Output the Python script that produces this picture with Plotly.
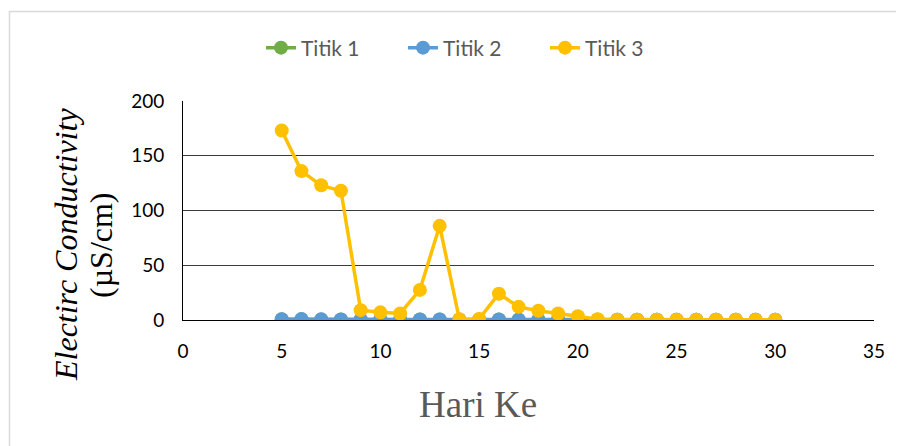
import plotly.graph_objects as go

days = list(range(5, 31))
titik1 = [0.6, 0.7, 0.5, 0.4, 0.4, 0.4, 0.3, 0.4, 0.4, 0.3, 0.3, 0.4, 0.3, 0.3, 0.3, 0.3, 0.2, 0.2, 0.2, 0.2, 0.2, 0.2, 0.2, 0.2, 0.2, 0.2]
titik2 = [0.7, 0.8, 0.6, 0.5, 0.5, 0.5, 0.4, 0.5, 0.5, 0.4, 0.4, 0.5, 0.4, 0.4, 0.4, 0.4, 0.3, 0.3, 0.3, 0.3, 0.3, 0.3, 0.3, 0.3, 0.3, 0.3]
titik3 = [173, 136, 123, 118, 9, 7, 6, 27.5, 86, 0.6, 1, 24, 12, 8.5, 6, 3.5, 0.7, 0.3, 0.2, 0.2, 0.2, 0.2, 0.2, 0.2, 0.2, 0.2]

x_ticks = [0, 5, 10, 15, 20, 25, 30, 35]
y_ticks = [0, 50, 100, 150, 200]

series = [("Titik 1", titik1, "#70AD47"), ("Titik 2", titik2, "#5B9BD5"), ("Titik 3", titik3, "#FFC000")]

# page has an 8px body margin: figure origin at (8, 8)
OX, OY = 8, 8
PL, PR, PT, PB = 183 - OX, 874 - OX, 101 - OY, 320 - OY
W, H = 896, 438
PW, PH = PR - PL, PB - PT


def px(x):
    return (x - OX - PL) / PW


def py(y):
    return (PB - (y - OY)) / PH


fig = go.Figure()
for name, vals, col in series:
    fig.add_trace(go.Scatter(x=days, y=vals, name=name, mode="lines+markers",
                             line=dict(color=col, width=3.5),
                             marker=dict(color=col, size=14)))

fig.update_layout(
    width=W, height=H,
    margin=dict(l=PL, r=W - PR, t=PT, b=H - PB),
    paper_bgcolor="white", plot_bgcolor="white",
    showlegend=True,
    legend=dict(orientation="h", x=px(474), xanchor="center", y=py(48), yanchor="middle",
                font=dict(family="Lato, Open Sans, sans-serif", size=21, color="#595959"),
                entrywidth=97, entrywidthmode="pixels", tracegroupgap=0),
    xaxis=dict(range=[0, 35], tickvals=x_ticks, showgrid=False, zeroline=False,
               showline=True, linecolor="#000000", linewidth=1, ticks="",
               tickfont=dict(family="Lato, Open Sans, sans-serif", size=19, color="#000000"),
               ticklabelstandoff=14),
    yaxis=dict(range=[0, 200], tickvals=y_ticks, showgrid=True, gridcolor="#3a3a3a", gridwidth=1,
               zeroline=False, showline=True, linecolor="#000000", linewidth=1, ticks="",
               tickfont=dict(family="Lato, Open Sans, sans-serif", size=19, color="#000000"),
               ticklabelstandoff=14),
    shapes=[dict(type="rect", xref="paper", yref="paper", x0=px(9.5), x1=px(1000), y0=py(600), y1=py(11.5),
                 line=dict(color="#D9D9D9", width=1.5), fillcolor="rgba(0,0,0,0)", layer="below")],
    annotations=[
        dict(text="Hari Ke", xref="paper", yref="paper", x=px(478), y=py(404),
             showarrow=False, xanchor="center", yanchor="middle",
             font=dict(family="Liberation Serif, Times New Roman, serif", size=37, color="#595959")),
        dict(text="<i>Electirc Conductivity</i>", xref="paper", yref="paper", x=px(66), y=py(245),
             showarrow=False, textangle=-90, xanchor="center", yanchor="middle",
             font=dict(family="Liberation Serif, Times New Roman, serif", size=32, color="#000000")),
        dict(text="(µS/cm)", xref="paper", yref="paper", x=px(101), y=py(245),
             showarrow=False, textangle=-90, xanchor="center", yanchor="middle",
             font=dict(family="Liberation Serif, Times New Roman, serif", size=32, color="#000000")),
    ],
)

fig.write_html("out.html")
